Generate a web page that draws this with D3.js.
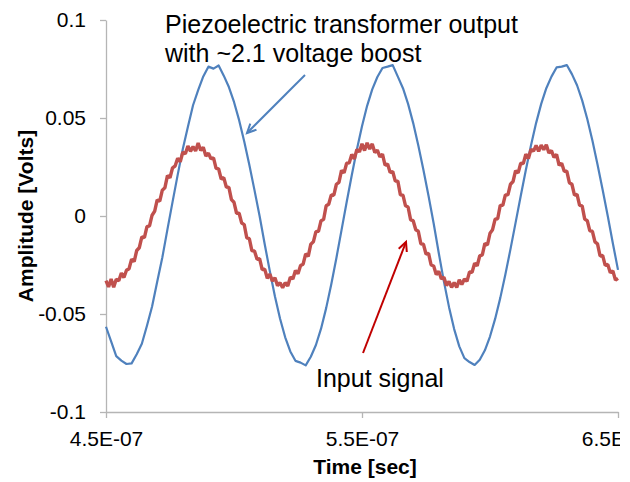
<!DOCTYPE html>
<html>
<head>
<meta charset="utf-8">
<script src="https://cdn.jsdelivr.net/npm/d3@7"></script>
<style>
  html, body { margin: 0; padding: 0; background: #fff; }
  svg { display: block; font-family: "Liberation Sans", Arial, sans-serif; }
</style>
</head>
<body>
<svg id="chart" width="630" height="482"></svg>
<script>
// === Data ===
// time axis in ns, samples evenly spaced
const xTicks = [450, 550, 650];
const xTickLabels = ['4.5E-07', '5.5E-07', '6.5E-07'];
const yTicks = [0.1, 0.05, 0, -0.05, -0.1];
const yTickLabels = ['0.1', '0.05', '0', '-0.05', '-0.1'];

// Piezoelectric transformer output, 2 ns per sample from 450 ns
const outStart = 450, outStep = 2;
const outputVolts = [
  -0.0565, -0.0640, -0.0715, -0.0738, -0.0755, -0.0752, -0.0705, -0.0652, -0.0560, -0.0462,
  -0.0335, -0.0212, -0.0068, 0.0072, 0.0210, 0.0342, 0.0455, 0.0565, 0.0642, 0.0712,
  0.0762, 0.0752, 0.0768, 0.0716, 0.0658, 0.0582, 0.0489, 0.0380, 0.0260, 0.0132,
  0.0000, -0.0144, -0.0282, -0.0411, -0.0524, -0.0619, -0.0691, -0.0739, -0.0748, -0.0762,
  -0.0718, -0.0658, -0.0575, -0.0470, -0.0348, -0.0214, -0.0072, 0.0070, 0.0208, 0.0339,
  0.0458, 0.0562, 0.0646, 0.0709, 0.0755, 0.0762, 0.0770, 0.0711, 0.0652, 0.0572,
  0.0474, 0.0360, 0.0235, 0.0102, -0.0038, -0.0190, -0.0335, -0.0465, -0.0577, -0.0665,
  -0.0725, -0.0745, -0.0760, -0.0733, -0.0685, -0.0615, -0.0525, -0.0419, -0.0299, -0.0169,
  -0.0034, 0.0102, 0.0235, 0.0360, 0.0474, 0.0572, 0.0652, 0.0711, 0.0758, 0.0762,
  0.0770, 0.0724, 0.0667, 0.0590, 0.0495, 0.0385, 0.0263, 0.0134, 0.0000, -0.0140,
  -0.0275
];

// Input signal, 1 ns per sample from 450 ns
const inStart = 450, inStep = 1;
const inputVolts = [
  -0.0330, -0.0362, -0.0322, -0.0364, -0.0323, -0.0330, -0.0291, -0.0314, -0.0277, -0.0269,
  -0.0220, -0.0233, -0.0176, -0.0162, -0.0106, -0.0110, -0.0054, -0.0050, 0.0004, 0.0024,
  0.0082, 0.0076, 0.0132, 0.0144, 0.0206, 0.0195, 0.0246, 0.0255, 0.0295, 0.0276,
  0.0325, 0.0318, 0.0357, 0.0330, 0.0354, 0.0332, 0.0372, 0.0334, 0.0351, 0.0306,
  0.0321, 0.0292, 0.0297, 0.0243, 0.0240, 0.0189, 0.0196, 0.0148, 0.0146, 0.0084,
  0.0070, 0.0014, 0.0014, -0.0036, -0.0044, -0.0112, -0.0116, -0.0178, -0.0178, -0.0221,
  -0.0218, -0.0273, -0.0271, -0.0318, -0.0297, -0.0332, -0.0315, -0.0356, -0.0340, -0.0366,
  -0.0340, -0.0357, -0.0312, -0.0321, -0.0278, -0.0295, -0.0253, -0.0246, -0.0193, -0.0206,
  -0.0144, -0.0132, -0.0080, -0.0078, -0.0024, -0.0018, 0.0052, 0.0060, 0.0108, 0.0106,
  0.0162, 0.0172, 0.0233, 0.0220, 0.0269, 0.0271, 0.0314, 0.0291, 0.0340, 0.0327,
  0.0368, 0.0334, 0.0373, 0.0342, 0.0368, 0.0324, 0.0336, 0.0301, 0.0316, 0.0259,
  0.0265, 0.0222, 0.0227, 0.0178, 0.0178, 0.0108, 0.0106, 0.0052, 0.0046, -0.0020,
  -0.0024, -0.0070, -0.0078, -0.0142, -0.0144, -0.0194, -0.0191, -0.0250, -0.0255, -0.0299,
  -0.0282, -0.0321, -0.0312, -0.0355, -0.0334, -0.0364, -0.0340, -0.0364, -0.0326, -0.0349,
  -0.0322, -0.0333, -0.0286, -0.0287, -0.0241, -0.0254, -0.0203, -0.0198, -0.0140, -0.0148,
  -0.0088, -0.0070, -0.0016, -0.0014, 0.0054, 0.0054, 0.0108, 0.0108, 0.0162, 0.0176,
  0.0231, 0.0220, 0.0269, 0.0267, 0.0316, 0.0293, 0.0340, 0.0331, 0.0360, 0.0330,
  0.0362, 0.0338, 0.0364, 0.0321, 0.0334, 0.0299, 0.0314, 0.0259, 0.0269, 0.0228,
  0.0229, 0.0170, 0.0162, 0.0106, 0.0110, 0.0054, 0.0052, -0.0016, -0.0024, -0.0076,
  -0.0078, -0.0132, -0.0142, -0.0204, -0.0201, -0.0252, -0.0247, -0.0289, -0.0280, -0.0327,
  -0.0318
];

const outputPts = outputVolts.map((v, i) => ({ t: outStart + i * outStep, v }));
const inputPts = inputVolts.map((v, i) => ({ t: inStart + i * inStep, v }));

// === Chart ===
const svg = d3.select('#chart');
const x = d3.scaleLinear().domain([450, 650]).range([106, 618]);
const y = d3.scaleLinear().domain([-0.1, 0.1]).range([412, 20]);
const axisColor = '#b5b5b5';

// the original picture is cropped just right of the plot
svg.append('clipPath').attr('id', 'crop')
  .append('rect').attr('x', 0).attr('y', 0).attr('width', 620).attr('height', 482);
const root = svg.append('g').attr('clip-path', 'url(#crop)');

// axes
const xAxis = root.append('g')
  .attr('transform', 'translate(0,412)')
  .call(d3.axisBottom(x).tickValues(xTicks)
    .tickFormat((d, i) => xTickLabels[i]).tickSize(6).tickSizeOuter(0).tickPadding(13));
const yAxis = root.append('g')
  .attr('transform', 'translate(106,0)')
  .call(d3.axisLeft(y).tickValues(yTicks)
    .tickFormat((d, i) => yTickLabels[i]).tickSize(6).tickSizeOuter(0).tickPadding(14));

[xAxis, yAxis].forEach(a => {
  a.select('.domain').attr('stroke', axisColor).attr('stroke-width', 1.3);
  a.selectAll('.tick line').attr('stroke', axisColor).attr('stroke-width', 1.3);
  a.selectAll('.tick text').attr('fill', '#000').attr('font-size', 21)
    .attr('font-family', '"Liberation Sans", Arial, sans-serif');
});

// series
const line = d3.line().x(d => x(d.t)).y(d => y(d.v));
root.append('path').datum(outputPts)
  .attr('d', line).attr('fill', 'none')
  .attr('stroke', '#4f81bd').attr('stroke-width', 2.2).attr('stroke-linejoin', 'round');
root.append('path').datum(inputPts)
  .attr('d', line).attr('fill', 'none')
  .attr('stroke', '#c0504d').attr('stroke-width', 3.4).attr('stroke-linejoin', 'bevel');

// axis titles
root.append('text').attr('x', 365).attr('y', 474)
  .attr('text-anchor', 'middle').attr('font-size', 21).attr('font-weight', 'bold')
  .text('Time [sec]');
root.append('text').attr('transform', 'translate(33,216) rotate(-90)')
  .attr('text-anchor', 'middle').attr('font-size', 21).attr('font-weight', 'bold')
  .text('Amplitude [Volts]');

// annotations
root.append('text').attr('x', 165).attr('y', 33).attr('font-size', 25)
  .text('Piezoelectric transformer output');
root.append('text').attr('x', 165).attr('y', 62).attr('font-size', 25)
  .text('with ~2.1 voltage boost');
root.append('text').attr('x', 316).attr('y', 387).attr('font-size', 25)
  .text('Input signal');

function arrow(x1, y1, x2, y2, color) {
  const ang = Math.atan2(y2 - y1, x2 - x1);
  const len = 10, spread = 0.45;
  root.append('line').attr('x1', x1).attr('y1', y1).attr('x2', x2).attr('y2', y2)
    .attr('stroke', color).attr('stroke-width', 2);
  const head = [
    [x2 - len * Math.cos(ang - spread), y2 - len * Math.sin(ang - spread)],
    [x2, y2],
    [x2 - len * Math.cos(ang + spread), y2 - len * Math.sin(ang + spread)]
  ];
  root.append('path').attr('d', d3.line()(head)).attr('fill', 'none')
    .attr('stroke', color).attr('stroke-width', 2).attr('stroke-linejoin', 'miter');
}
arrow(305, 75, 247, 133, '#4f81bd');
arrow(363, 353, 406, 242, '#c00000');
</script>
</body>
</html>
